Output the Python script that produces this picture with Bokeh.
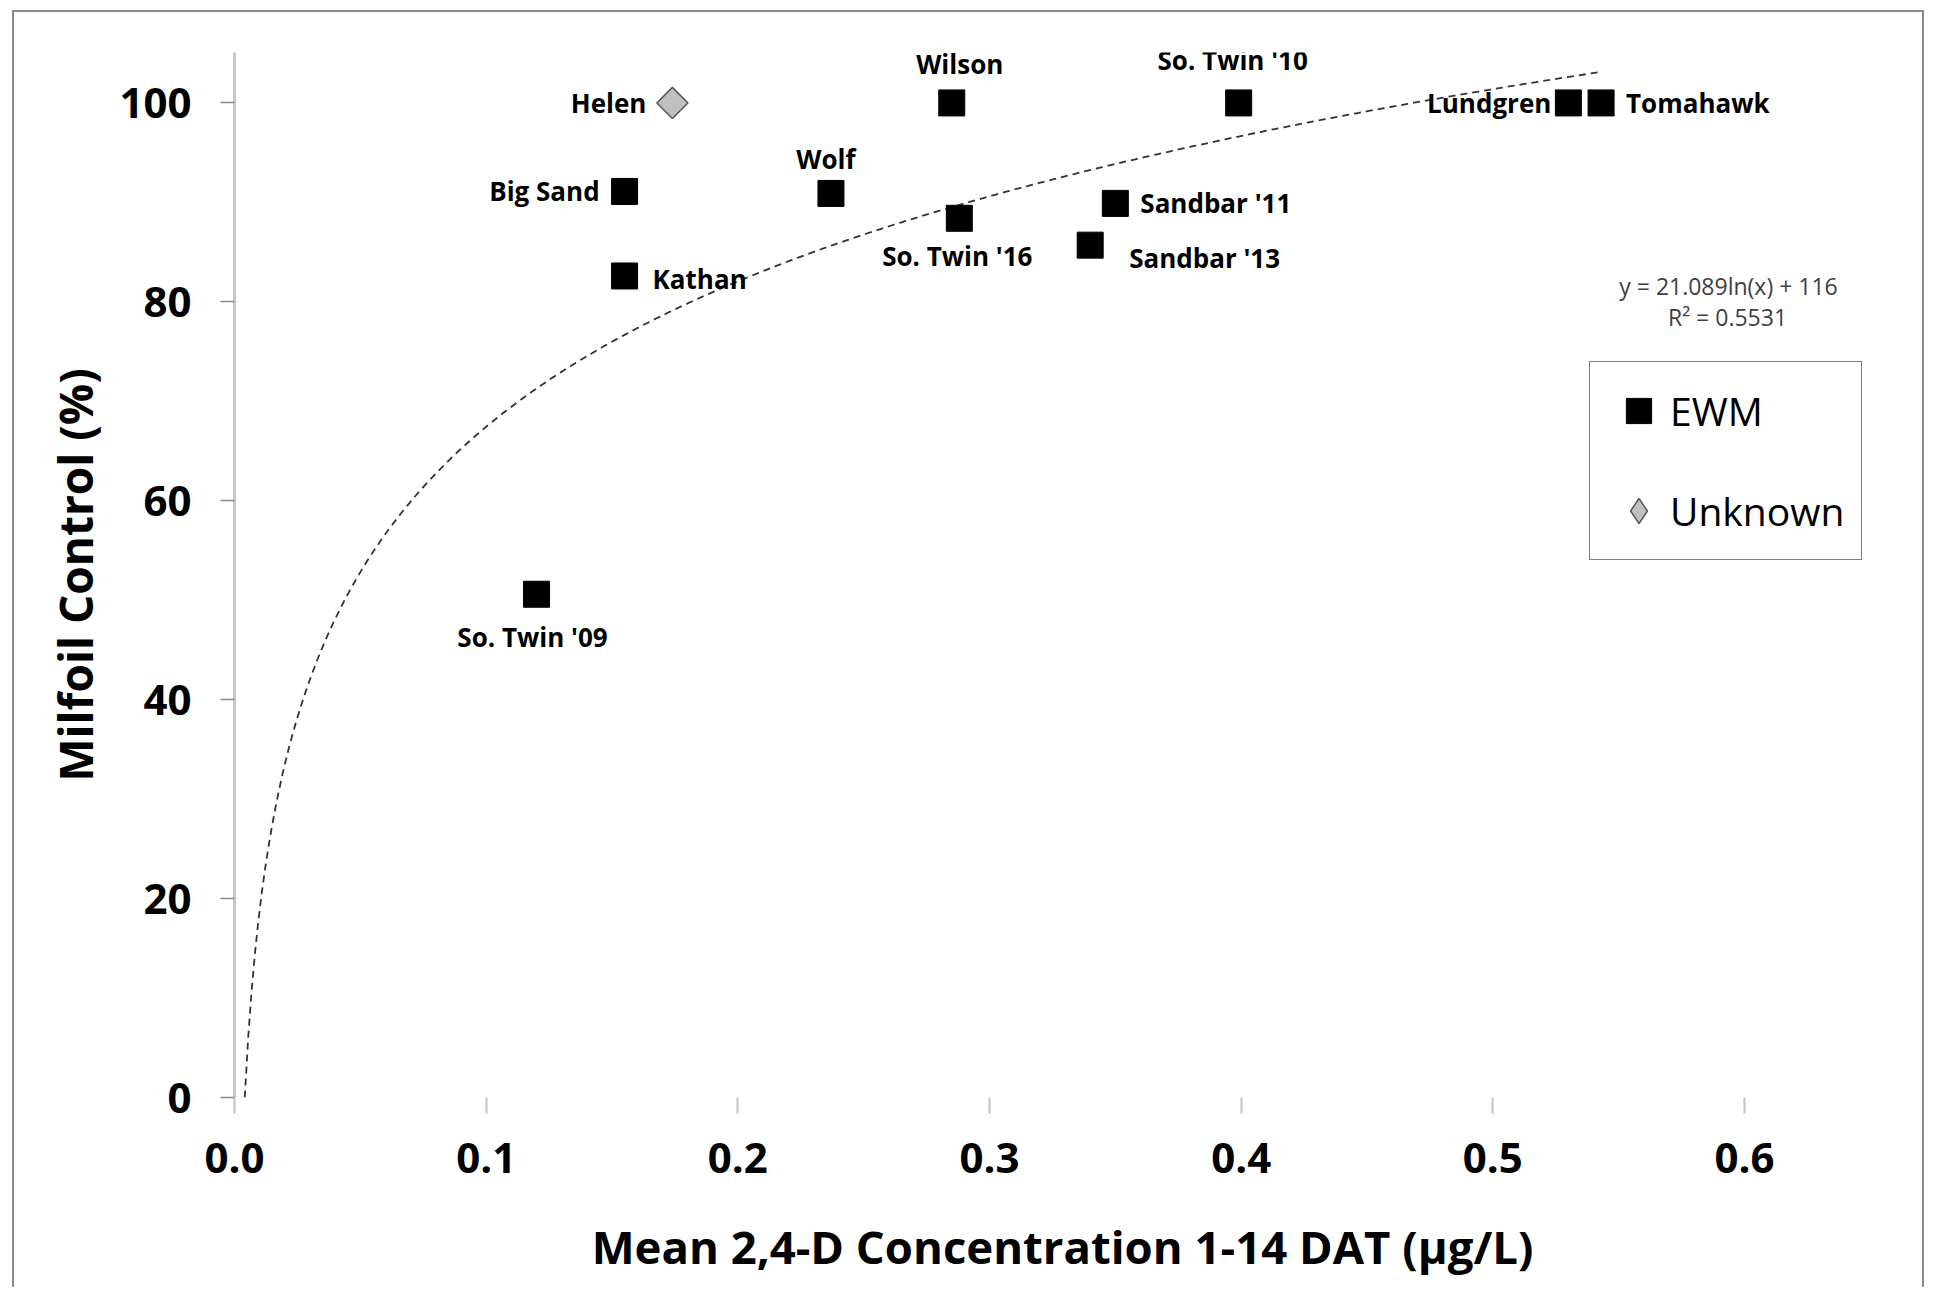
import numpy as np
from bokeh.plotting import figure
from bokeh.models import (ColumnDataSource, FixedTicker, NumeralTickFormatter,
                          Legend, LegendItem, LabelSet, Label)
from bokeh.core.properties import value, field
from bokeh.embed import file_html
from bokeh.resources import INLINE

# --- data -------------------------------------------------------------
ewm_sites = ["Wilson", "So. Twin '10", "Lundgren", "Tomahawk", "Big Sand", "Wolf",
             "So. Twin '16", "Sandbar '11", "Sandbar '13", "Kathan", "So. Twin '09"]
ewm_conc = [0.285, 0.399, 0.530, 0.543, 0.155, 0.237, 0.288, 0.350, 0.340, 0.155, 0.120]
ewm_control = [100, 100, 100, 100, 91.1, 90.9, 88.4, 89.9, 85.7, 82.6, 50.6]

unknown_sites = ["Helen"]
unknown_conc = [0.174]
unknown_control = [100]

# logarithmic trend line fitted to the lakes
trend_slope = 21.089
trend_intercept = 116
trend_r2 = 0.5531

x_ticks = [0.0, 0.1, 0.2, 0.3, 0.4, 0.5, 0.6]
y_ticks = [0, 20, 40, 60, 80, 100]

# label placement per site: alignment, x shift, y shift (pixels, downwards)
label_place = {
    "Helen": ("right", -26, 0),
    "Wilson": ("center", 8, -39),
    "So. Twin '10": ("center", -6, -43),
    "Lundgren": ("right", -17, 0),
    "Tomahawk": ("left", 25, 0),
    "Big Sand": ("right", -25, 0),
    "Wolf": ("center", -5, -34),
    "So. Twin '16": ("center", -2, 38),
    "Sandbar '11": ("left", 25, 0),
    "Sandbar '13": ("left", 39, 13),
    "Kathan": ("left", 28, 3),
    "So. Twin '09": ("center", -4, 43),
}

FONT = "Open Sans"

# --- figure -----------------------------------------------------------
p = figure(width=1912, height=1277, output_backend="svg", toolbar_location=None,
           x_range=(0, 0.658), y_range=(0, 105.07),
           min_border_left=220, min_border_right=36,
           min_border_top=40, min_border_bottom=192)
p.margin = (10, 0, 0, 12)
p.styles = {"border": "2px solid #8c8c8c", "border-bottom": "none"}
p.outline_line_color = None
p.grid.visible = False
p.background_fill_color = "white"
p.border_fill_color = "white"

# x axis: tick marks only, no axis line
xa = p.xaxis[0]
xa.ticker = FixedTicker(ticks=x_ticks)
xa.formatter = NumeralTickFormatter(format="0.0")
xa.axis_line_color = None
xa.major_tick_in = 0
xa.major_tick_out = 16
xa.major_tick_line_color = "#c4c4c4"
xa.major_tick_line_width = 2
xa.minor_tick_line_color = None
xa.major_label_text_font = FONT
xa.major_label_text_font_style = "bold"
xa.major_label_text_font_size = "42px"
xa.major_label_text_color = "black"
xa.major_label_standoff = 29
xa.axis_label = "Mean 2,4-D Concentration 1-14 DAT (µg/L)"
xa.axis_label_text_font = FONT
xa.axis_label_text_font_style = "bold"
xa.axis_label_text_font_size = "45.5px"
xa.axis_label_text_color = "black"
xa.axis_label_standoff = 39

# y axis
ya = p.yaxis[0]
ya.ticker = FixedTicker(ticks=y_ticks)
ya.axis_line_color = "#c8c8c8"
ya.axis_line_width = 3
ya.major_tick_in = 0
ya.major_tick_out = 14
ya.major_tick_line_color = "#8c8c8c"
ya.major_tick_line_width = 1.5
ya.minor_tick_line_color = None
ya.major_label_text_font = FONT
ya.major_label_text_font_style = "bold"
ya.major_label_text_font_size = "42px"
ya.major_label_text_color = "black"
ya.major_label_standoff = 29
ya.axis_label = "Milfoil Control (%)"
ya.axis_label_text_font = FONT
ya.axis_label_text_font_style = "bold"
ya.axis_label_text_font_size = "46px"
ya.axis_label_text_color = "black"
ya.axis_label_standoff = 10

# --- trend line y = a ln(x) + b, from where it crosses 0 to the last lake ---
all_conc = ewm_conc + unknown_conc
tx = np.linspace(np.exp(-trend_intercept / trend_slope), max(all_conc), 400)
ty = trend_slope * np.log(tx) + trend_intercept
p.line(tx, ty, line_color="#333333", line_width=1.8, line_dash="7 5")

# --- points -----------------------------------------------------------
ewm_src = ColumnDataSource(dict(x=ewm_conc, y=ewm_control, name=ewm_sites))
unk_src = ColumnDataSource(dict(x=unknown_conc, y=unknown_control, name=unknown_sites))

r_ewm = p.scatter("x", "y", source=ewm_src, marker="square", size=26,
                  fill_color="black", line_color="black")
r_unk = p.scatter("x", "y", source=unk_src, marker="square", angle=np.pi / 4,
                  size=22, fill_color="#c0c0c0", line_color="#555555", line_width=1.5)

# legend swatch for the unknown lake (legend glyphs are never rotated)
unk_key = p.scatter(x=[np.nan], y=[np.nan], marker="diamond", size=26,
                    fill_color="#c0c0c0", line_color="#555555", line_width=1.5)

# --- site labels ------------------------------------------------------
lab_names = unknown_sites + ewm_sites
lab_x = unknown_conc + ewm_conc
lab_y = unknown_control + ewm_control
lab_src = ColumnDataSource(dict(
    x=lab_x, y=lab_y, name=lab_names,
    align=[label_place[n][0] for n in lab_names],
    xoff=[label_place[n][1] for n in lab_names],
    yoff=[-label_place[n][2] for n in lab_names],
))
p.add_layout(LabelSet(x="x", y="y", text="name", source=lab_src,
                      x_offset="xoff", y_offset="yoff",
                      text_align=field("align"), text_baseline="middle",
                      text_font=value(FONT), text_font_style="bold",
                      text_font_size="26px", text_color="black"))

# --- trend equation ---------------------------------------------------
p.add_layout(Label(x=1494, y=812, x_units="screen", y_units="screen",
                   text=f"y = {trend_slope}ln(x) + {trend_intercept}",
                   text_align="center", text_baseline="middle",
                   text_font=FONT, text_font_size="23px", text_color="#404040"))
p.add_layout(Label(x=1493, y=781, x_units="screen", y_units="screen",
                   text=f"R² = {trend_r2}",
                   text_align="center", text_baseline="middle",
                   text_font=FONT, text_font_size="23px", text_color="#404040"))

# --- legend -----------------------------------------------------------
legend = Legend(items=[LegendItem(label="EWM", renderers=[r_ewm]),
                       LegendItem(label="Unknown", renderers=[unk_key])],
                location=(1355, 537), orientation="vertical",
                glyph_width=63, glyph_height=63, padding=17, spacing=37,
                label_standoff=-5, margin=0,
                label_text_font=FONT, label_text_font_size="39px",
                label_text_color="black",
                border_line_color="black", border_line_width=1.5,
                background_fill_color="white", background_fill_alpha=1.0)
p.add_layout(legend)

open("out.html", "w").write(file_html(p, INLINE))
